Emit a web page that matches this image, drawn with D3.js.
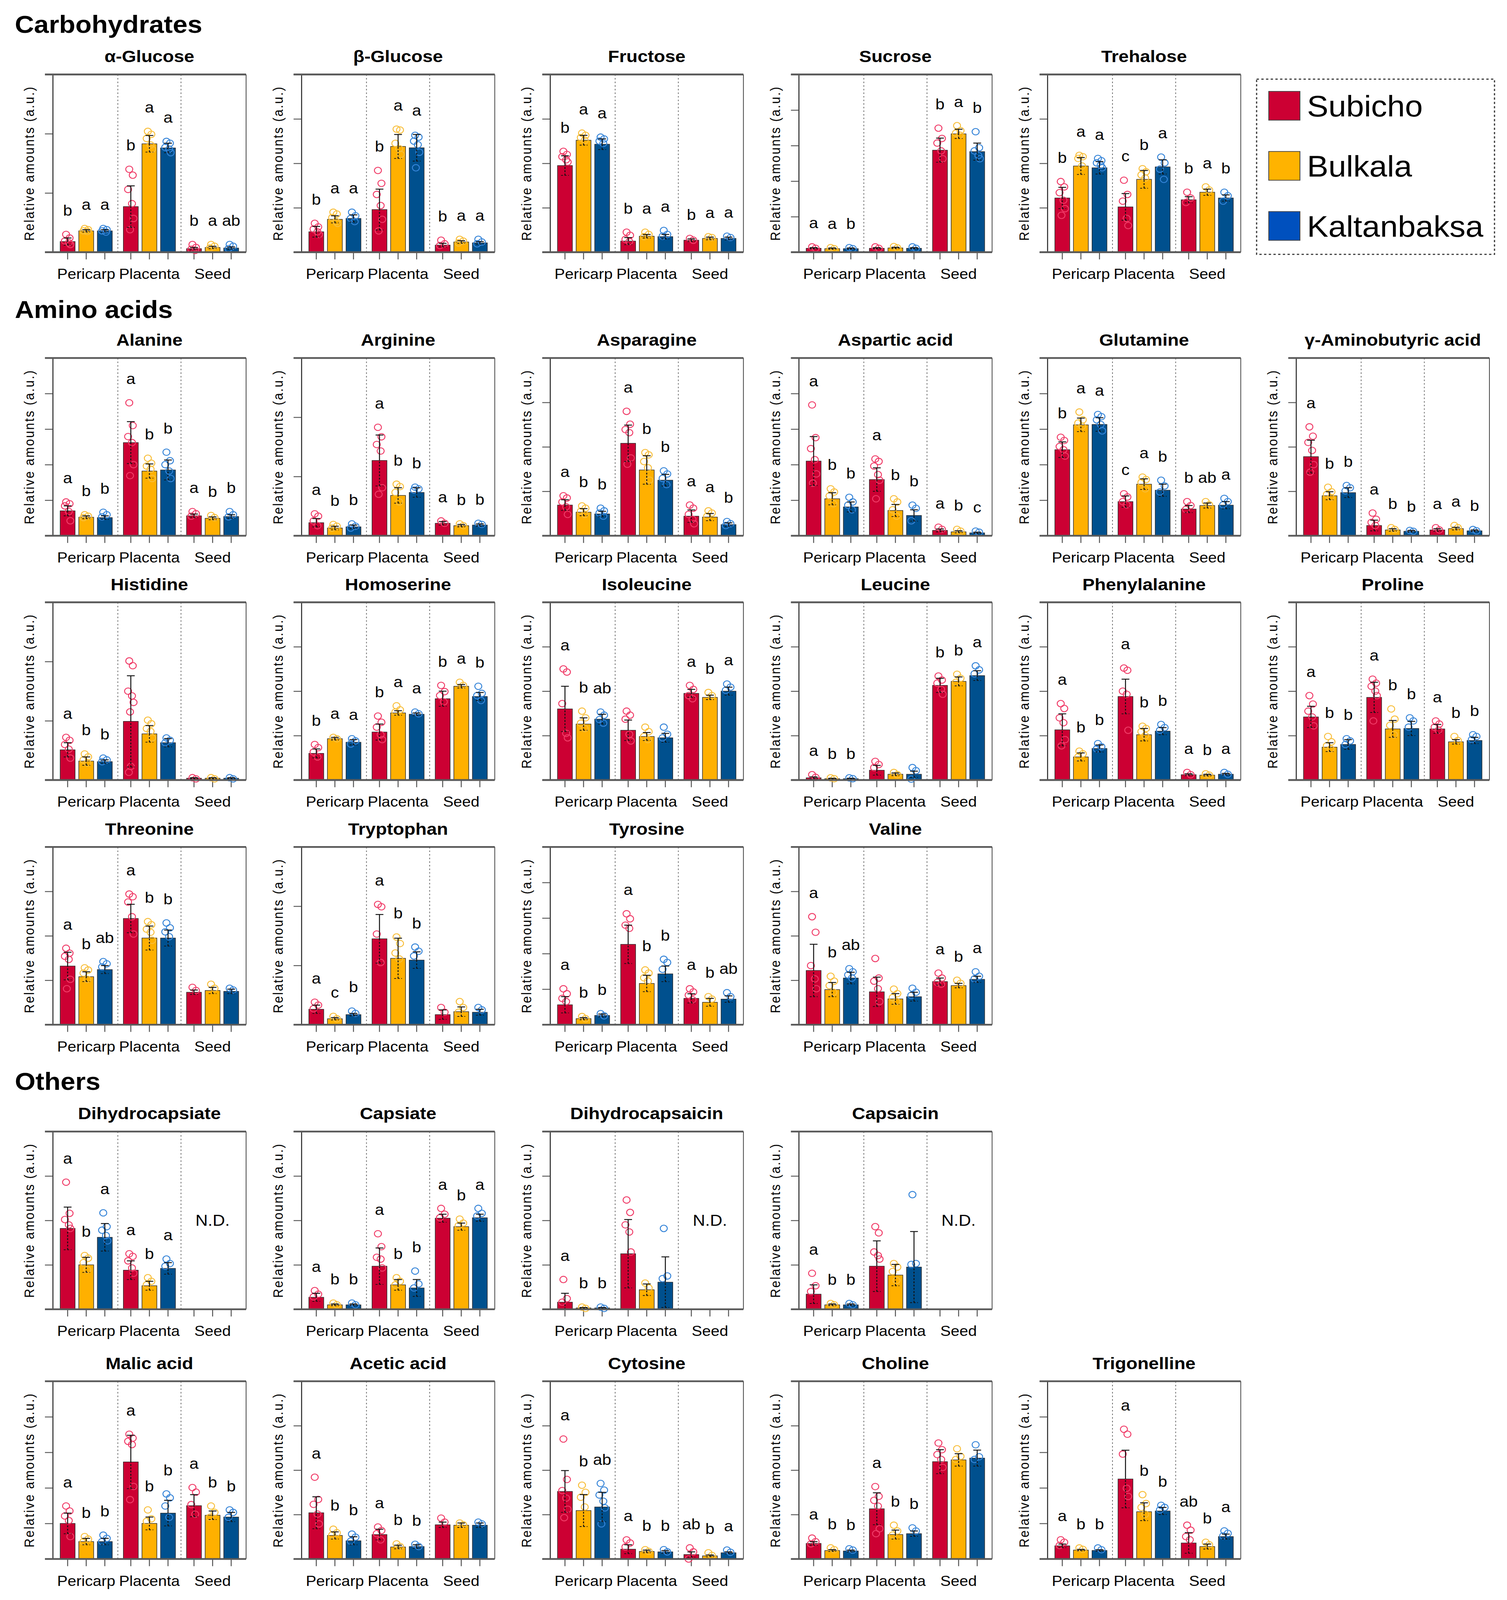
<!DOCTYPE html>
<html>
<head>
<meta charset="utf-8">
<script src="https://cdn.jsdelivr.net/npm/d3@7"></script>
<style>
html, body { margin: 0; padding: 0; background: #fff; overflow: hidden; }
#chart svg { display: block; width: 100vw; height: 100vh; }
svg text { font-family: "Liberation Sans", Arial, sans-serif; fill: #000; }
.y-axis path.domain { stroke: #222; stroke-width: 2.5; }
.y-axis .tick line { stroke: #555; stroke-width: 2.5; }
.x-ticks path.domain { display: none; }
.x-ticks .tick line { stroke: #555; stroke-width: 2.5; }
.x-labels path.domain { display: none; }
.x-labels .tick text { font-size: 40px; }
</style>
</head>
<body>
<div id="chart"></div>
<script>

// ---- data (arbitrary units) ----
var tissues = ["Pericarp", "Placenta", "Seed"];
var cultivars = ["Subicho", "Bulkala", "Kaltanbaksa"];
var sections = ["Carbohydrates", "Amino acids", "Others"];

var metabolites = ["α-Glucose", "β-Glucose", "Fructose", "Sucrose", "Trehalose",
    "Alanine", "Arginine", "Asparagine", "Aspartic acid", "Glutamine", "γ-Aminobutyric acid",
    "Histidine", "Homoserine", "Isoleucine", "Leucine", "Phenylalanine", "Proline",
    "Threonine", "Tryptophan", "Tyrosine", "Valine",
    "Dihydrocapsiate", "Capsiate", "Dihydrocapsaicin", "Capsaicin",
    "Malic acid", "Acetic acid", "Cytosine", "Choline", "Trigonelline"];

// top of each y axis (ticks at every whole unit)
var yMax = [3, 4, 4, 5, 4,
    5, 3, 4, 5, 5, 4,
    3, 4, 4, 4, 4, 4,
    4, 3, 5, 4,
    4, 4, 4, 4,
    5, 4, 4, 4, 5];

// bar order: Pericarp S/B/K, Placenta S/B/K, Seed S/B/K ; null = N.D.
var means = [
    [0.18, 0.36, 0.36, 0.77, 1.83, 1.76, 0.06, 0.08, 0.07],
    [0.46, 0.74, 0.76, 0.96, 2.38, 2.35, 0.16, 0.23, 0.21],
    [1.95, 2.52, 2.43, 0.25, 0.36, 0.35, 0.27, 0.31, 0.31],
    [0.11, 0.10, 0.10, 0.11, 0.12, 0.11, 2.87, 3.33, 2.83],
    [1.22, 1.94, 1.90, 1.02, 1.64, 1.92, 1.18, 1.35, 1.22],
    [0.70, 0.52, 0.51, 2.62, 1.82, 1.85, 0.56, 0.49, 0.54],
    [0.22, 0.13, 0.15, 1.27, 0.68, 0.73, 0.21, 0.17, 0.18],
    [0.69, 0.53, 0.49, 2.08, 1.48, 1.25, 0.44, 0.42, 0.25],
    [2.10, 1.04, 0.81, 1.58, 0.71, 0.57, 0.15, 0.11, 0.08],
    [2.42, 3.12, 3.13, 0.96, 1.45, 1.28, 0.75, 0.85, 0.86],
    [1.78, 0.90, 0.97, 0.23, 0.13, 0.10, 0.13, 0.16, 0.11],
    [0.51, 0.32, 0.31, 0.99, 0.78, 0.63, 0.03, 0.03, 0.03],
    [0.60, 0.93, 0.85, 1.08, 1.51, 1.48, 1.83, 2.11, 1.88],
    [1.60, 1.26, 1.37, 1.12, 0.98, 0.95, 1.95, 1.86, 2.00],
    [0.05, 0.03, 0.03, 0.22, 0.13, 0.13, 2.13, 2.22, 2.35],
    [1.13, 0.52, 0.71, 1.88, 1.02, 1.10, 0.12, 0.11, 0.13],
    [1.42, 0.74, 0.80, 1.86, 1.15, 1.16, 1.15, 0.86, 0.89],
    [1.32, 1.08, 1.24, 2.39, 1.95, 1.95, 0.73, 0.77, 0.75],
    [0.26, 0.10, 0.17, 1.45, 1.12, 1.09, 0.17, 0.22, 0.21],
    [0.56, 0.17, 0.26, 2.26, 1.16, 1.43, 0.74, 0.63, 0.72],
    [1.22, 0.79, 1.05, 0.74, 0.58, 0.63, 0.97, 0.88, 1.02],
    [1.82, 1.00, 1.62, 0.88, 0.53, 0.92, null, null, null],
    [0.27, 0.10, 0.10, 0.97, 0.55, 0.48, 2.05, 1.86, 2.06],
    [0.16, 0.03, 0.03, 1.25, 0.44, 0.61, null, null, null],
    [0.34, 0.10, 0.10, 0.97, 0.77, 0.95, null, null, null],
    [1.00, 0.49, 0.49, 2.73, 1.00, 1.29, 1.50, 1.23, 1.18],
    [1.04, 0.53, 0.41, 0.55, 0.27, 0.28, 0.77, 0.76, 0.76],
    [1.52, 1.09, 1.17, 0.22, 0.17, 0.16, 0.10, 0.07, 0.14],
    [0.35, 0.19, 0.18, 1.13, 0.55, 0.57, 2.19, 2.23, 2.27],
    [0.37, 0.25, 0.24, 2.25, 1.33, 1.35, 0.45, 0.35, 0.63]
];

var sds = [
    [0.06, 0.02, 0.02, 0.35, 0.14, 0.08, 0.02, 0.02, 0.02],
    [0.12, 0.08, 0.08, 0.46, 0.27, 0.30, 0.04, 0.03, 0.03],
    [0.22, 0.11, 0.12, 0.08, 0.04, 0.05, 0.03, 0.03, 0.03],
    [0.02, 0.02, 0.02, 0.02, 0.02, 0.02, 0.34, 0.13, 0.24],
    [0.24, 0.19, 0.14, 0.30, 0.20, 0.16, 0.07, 0.07, 0.07],
    [0.14, 0.04, 0.05, 0.59, 0.20, 0.28, 0.05, 0.04, 0.05],
    [0.07, 0.03, 0.03, 0.43, 0.13, 0.08, 0.03, 0.02, 0.02],
    [0.12, 0.08, 0.06, 0.41, 0.32, 0.13, 0.14, 0.08, 0.04],
    [0.69, 0.17, 0.14, 0.33, 0.17, 0.16, 0.04, 0.03, 0.02],
    [0.22, 0.19, 0.19, 0.16, 0.15, 0.17, 0.10, 0.07, 0.10],
    [0.37, 0.09, 0.11, 0.12, 0.03, 0.02, 0.03, 0.03, 0.02],
    [0.12, 0.07, 0.03, 0.77, 0.14, 0.07, 0.01, 0.01, 0.01],
    [0.10, 0.03, 0.06, 0.18, 0.05, 0.03, 0.17, 0.04, 0.09],
    [0.51, 0.14, 0.11, 0.23, 0.09, 0.10, 0.09, 0.05, 0.09],
    [0.02, 0.01, 0.01, 0.11, 0.03, 0.07, 0.16, 0.10, 0.11],
    [0.36, 0.09, 0.08, 0.39, 0.14, 0.08, 0.02, 0.02, 0.02],
    [0.24, 0.10, 0.11, 0.34, 0.19, 0.16, 0.10, 0.05, 0.07],
    [0.31, 0.11, 0.09, 0.32, 0.27, 0.18, 0.05, 0.07, 0.05],
    [0.07, 0.02, 0.02, 0.41, 0.34, 0.14, 0.08, 0.08, 0.05],
    [0.23, 0.03, 0.04, 0.54, 0.23, 0.22, 0.13, 0.11, 0.09],
    [0.59, 0.16, 0.13, 0.33, 0.12, 0.10, 0.08, 0.05, 0.07],
    [0.48, 0.17, 0.31, 0.21, 0.10, 0.13, null, null, null],
    [0.09, 0.02, 0.02, 0.41, 0.12, 0.19, 0.09, 0.08, 0.08],
    [0.20, 0.01, 0.01, 0.77, 0.13, 0.57, null, null, null],
    [0.21, 0.02, 0.02, 0.57, 0.24, 0.80, null, null, null],
    [0.29, 0.09, 0.09, 0.75, 0.18, 0.36, 0.31, 0.12, 0.13],
    [0.36, 0.08, 0.09, 0.12, 0.04, 0.04, 0.06, 0.05, 0.05],
    [0.47, 0.36, 0.33, 0.10, 0.03, 0.03, 0.06, 0.02, 0.02],
    [0.04, 0.02, 0.02, 0.36, 0.10, 0.06, 0.27, 0.14, 0.18],
    [0.05, 0.02, 0.02, 0.81, 0.25, 0.10, 0.29, 0.07, 0.07]
];

// individual replicates
var points = [
    [[0.30,0.24,0.19,0.16,0.13],[0.40,0.38,0.36,0.35],[0.40,0.38,0.36,0.34],[1.40,1.30,1.06,0.82,0.57,0.38],[2.04,1.99,1.92,1.81,1.74],[1.87,1.84,1.77,1.74,1.68],[0.13,0.08,0.05,0.03],[0.13,0.10,0.07],[0.13,0.10,0.06]],
    [[0.65,0.57,0.52,0.46,0.40],[0.90,0.86,0.78,0.69,0.65],[0.90,0.82,0.76,0.69],[1.84,1.55,1.30,1.05,0.74,0.48],[2.77,2.75,2.45,2.33,2.20],[2.63,2.59,2.50,2.42,2.25,1.90],[0.27,0.19,0.15],[0.29,0.25,0.21],[0.29,0.23,0.19]],
    [[2.27,2.20,2.15,2.08,2.03],[2.68,2.63,2.58,2.52],[2.59,2.55,2.50,2.45],[0.45,0.38,0.29,0.24],[0.45,0.40,0.35],[0.49,0.40,0.36],[0.31,0.27],[0.35,0.33],[0.36,0.33]],
    [[0.15,0.11],[0.13,0.10],[0.13,0.10],[0.15,0.11],[0.16,0.12],[0.15,0.11],[3.49,3.20,3.07,2.85,2.63],[3.56,3.42,3.35,3.29],[3.39,2.94,2.85,2.72,2.63]],
    [[1.59,1.47,1.34,1.17,0.98,0.83],[2.18,2.15,2.11,1.94],[2.11,2.06,2.01,1.96,1.90],[1.62,1.30,1.15,0.76,0.60],[1.88,1.81,1.74,1.67],[2.14,2.01,1.87,1.64],[1.35,1.22,1.12],[1.47,1.40],[1.35,1.27,1.15]],
    [[0.95,0.90,0.84,0.68,0.42],[0.59,0.55,0.51],[0.66,0.59,0.53],[3.74,3.10,2.79,2.62,2.00,1.69],[2.18,2.04,1.96,1.87,1.61],[2.35,2.11,2.00,1.82,1.61],[0.68,0.62,0.55],[0.57,0.51],[0.68,0.59,0.53]],
    [[0.37,0.33,0.25,0.17],[0.19,0.16,0.13],[0.20,0.16,0.13],[1.83,1.67,1.54,1.43,0.81,0.70],[0.87,0.83,0.73,0.57],[0.82,0.79,0.77],[0.25,0.21],[0.20,0.17],[0.21,0.19]],
    [[0.90,0.85,0.76,0.65,0.48],[0.67,0.62,0.55,0.48],[0.62,0.56,0.51,0.44],[2.80,2.51,2.39,2.32,1.75,1.61],[1.87,1.82,1.67,1.53,1.25],[1.46,1.39,1.29,1.15],[0.69,0.62,0.48,0.37,0.27],[0.56,0.51,0.44],[0.32,0.27,0.23]],
    [[3.68,2.76,2.45,2.14,1.74,1.48],[1.32,1.23,1.12,0.90],[1.08,0.95,0.86,0.73],[2.16,2.09,1.96,1.72,1.56,1.04],[1.04,0.95,0.73,0.55],[0.86,0.77,0.42],[0.24,0.18],[0.18,0.13],[0.13,0.10]],
    [[2.77,2.68,2.51,2.42,2.24],[3.48,3.26,3.17,3.08],[3.41,3.35,3.26,3.13,2.95],[1.18,1.09,0.96,0.87],[1.65,1.58,1.50,1.32],[1.56,1.40,1.23],[0.96,0.85,0.74],[0.96,0.87],[1.05,0.96,0.87]],
    [[2.45,2.24,2.10,1.92,1.60,1.43],[1.09,0.99,0.93,0.86],[1.13,1.08,1.01],[0.51,0.37,0.30,0.23],[0.18,0.14],[0.12,0.10],[0.18,0.13],[0.23,0.18],[0.14,0.11]],
    [[0.72,0.67,0.60,0.52,0.37],[0.44,0.39,0.34,0.29],[0.37,0.34,0.31],[2.01,1.93,1.50,1.42,1.31,1.15,0.23,0.13],[1.01,0.95,0.87,0.82,0.71],[0.71,0.67,0.63],[0.04,0.02],[0.04,0.02],[0.04,0.02]],
    [[0.80,0.73,0.63,0.52],[0.96,0.93],[0.93,0.88,0.81],[1.44,1.30,1.19,1.02,0.91],[1.67,1.58,1.53],[1.53,1.49],[2.13,1.99,1.90,1.76],[2.20,2.13],[2.11,1.95,1.90,1.79]],
    [[2.50,2.43,1.72,1.05,0.95],[1.55,1.40,1.28,1.16],[1.53,1.46,1.36,1.28],[1.55,1.46,1.37,1.03,0.88],[1.19,1.09,0.98,0.91],[1.19,1.03,0.95],[2.13,2.04,1.90,1.83],[1.97,1.90],[2.16,2.09,2.02]],
    [[0.12,0.06],[0.05,0.03],[0.05,0.03],[0.42,0.35,0.28],[0.17,0.12],[0.28,0.21,0.02],[2.34,2.25,2.18,2.04,1.93],[2.38,2.29,2.20],[2.57,2.48,2.39]],
    [[1.72,1.61,1.40,1.29,0.91,0.77],[0.65,0.59,0.52],[0.82,0.75,0.70],[2.52,2.47,2.00,1.93,1.12],[1.21,1.16,1.09,1.00],[1.25,1.18,1.12],[0.17,0.12],[0.14,0.11],[0.17,0.13]],
    [[1.90,1.71,1.55,1.42,1.22],[0.98,0.86,0.77,0.70],[0.93,0.88,0.80],[2.27,2.18,2.11,2.00,1.90,1.33],[1.60,1.37,1.23,1.02],[1.40,1.33,1.19],[1.33,1.26,1.19,1.12],[0.98,0.89],[1.02,0.98,0.91]],
    [[1.72,1.61,1.54,1.47,1.02,0.81],[1.28,1.23,1.16,1.02],[1.42,1.37,1.30],[2.94,2.88,2.76,2.43,2.04],[2.32,2.25,2.15,2.08,1.90],[2.29,2.18,2.09,1.98],[0.84,0.77],[0.91,0.82],[0.82,0.78]],
    [[0.38,0.33,0.27],[0.14,0.10],[0.23,0.19],[2.03,1.99,1.53,1.05],[1.48,1.37,1.21,1.11],[1.31,1.24,1.16],[0.29,0.21],[0.39,0.29,0.21],[0.29,0.25]],
    [[1.01,0.87,0.74,0.65],[0.23,0.17],[0.31,0.25],[3.12,2.98,2.80,2.71],[1.54,1.45,1.32,1.23],[1.84,1.75,1.56],[1.01,0.92,0.83,0.70],[0.79,0.72],[0.90,0.79]],
    [[2.43,2.08,1.33,1.03,0.81],[1.09,0.98,0.88,0.73],[1.26,1.19,1.12,1.05],[1.49,1.05,0.98,0.81,0.52],[0.80,0.70,0.61,0.52],[0.82,0.73,0.66],[1.16,1.05,0.95,0.91],[1.00,0.93],[1.19,1.09,1.03]],
    [[2.86,2.16,2.02,1.90,1.82],[1.21,1.15,1.05,0.89],[2.17,1.86,1.78,1.66,1.54],[1.25,1.19,1.09,0.93,0.81],[0.71,0.63,0.55],[1.13,1.03,0.97],[],[],[]],
    [[0.42,0.34,0.28],[0.14,0.10],[0.14,0.10],[1.70,1.41,1.17,1.13,0.93],[0.71,0.63,0.55],[0.86,0.57,0.48],[2.27,2.14,2.06],[2.03,1.94,1.88],[2.27,2.16,2.10]],
    [[0.67,0.24,0.16],[0.05,0.02],[0.05,0.02],[2.46,2.18,1.90,1.74,1.29],[0.59,0.48],[1.82,0.75,0.69],[],[],[]],
    [[0.81,0.53,0.40],[0.13,0.10],[0.13,0.10],[1.86,1.72,1.29,1.21,1.13],[1.03,0.95,0.85,0.65],[2.58,1.03,1.01],[],[],[]],
    [[1.49,1.35,1.21,1.08,0.63],[0.63,0.56,0.49],[0.67,0.58,0.49],[3.51,3.40,3.31,3.22,2.04,1.67],[1.38,1.13,1.06],[1.83,1.72,1.49,1.17],[2.01,1.88,1.53,1.26],[1.49,1.31,1.17],[1.38,1.31,1.17]],
    [[1.84,1.34,1.23,1.01,0.79],[0.67,0.59,0.54],[0.56,0.49,0.40],[0.72,0.64,0.57,0.43],[0.34,0.28],[0.33,0.28],[0.92,0.83],[0.81,0.77],[0.83,0.79]],
    [[2.70,1.79,1.54,1.37,1.12,0.93],[1.66,1.50,1.39,1.17],[1.70,1.55,1.44,1.30,1.15,0.79],[0.43,0.36,0.27],[0.21,0.17],[0.21,0.16],[0.25,0.16,0.00],[0.14,0.08],[0.20,0.15]],
    [[0.47,0.39,0.34],[0.25,0.21],[0.23,0.20],[1.63,1.41,1.32,1.19,0.68,0.57],[0.76,0.63,0.54],[0.70,0.63],[2.61,2.46,2.35,2.24,2.06],[2.48,2.31,2.24],[2.57,2.30,2.24]],
    [[0.54,0.47,0.38],[0.31,0.27],[0.31,0.26],[3.65,3.51,2.95,1.99,1.76],[1.81,1.56,1.45,1.26],[1.51,1.45,1.38],[0.95,0.81,0.63,0.54],[0.47,0.40],[0.79,0.72,0.65]]
];

// significance letters ("" = none shown)
var letters = [
    ["b","a","a","b","a","a","b","a","ab"],
    ["b","a","a","b","a","a","b","a","a"],
    ["b","a","a","b","a","a","b","a","a"],
    ["a","a","b","","","","b","a","b"],
    ["b","a","a","c","b","a","b","a","b"],
    ["a","b","b","a","b","b","a","b","b"],
    ["a","b","b","a","b","b","a","b","b"],
    ["a","b","b","a","b","b","a","a","b"],
    ["a","b","b","a","b","b","a","b","c"],
    ["b","a","a","c","a","b","b","ab","a"],
    ["a","b","b","a","b","b","a","a","b"],
    ["a","b","b","","","","","",""],
    ["b","a","a","b","a","a","b","a","b"],
    ["a","b","ab","","","","a","b","a"],
    ["a","b","b","","","","b","b","a"],
    ["a","b","b","a","b","b","a","b","a"],
    ["a","b","b","a","b","b","a","b","b"],
    ["a","b","ab","a","b","b","","",""],
    ["a","c","b","a","b","b","","",""],
    ["a","b","b","a","b","b","a","b","ab"],
    ["a","b","ab","","","","a","b","a"],
    ["a","b","a","a","b","a","","",""],
    ["a","b","b","a","b","b","a","b","a"],
    ["a","b","b","","","","","",""],
    ["a","b","b","","","","","",""],
    ["a","b","b","a","b","b","a","b","b"],
    ["a","b","b","a","b","b","","",""],
    ["a","b","ab","a","b","b","ab","b","a"],
    ["a","b","b","a","b","b","","",""],
    ["a","b","b","a","b","b","ab","b","a"]
];

// ---- layout ----
var barColors = ["#CC0033", "#FFB000", "#00508E"];
var dotColors = ["#F03C68", "#F8BE3A", "#3584D8"];
var legendColors = ["#CC0033", "#FFB300", "#0050BE"];

var panelRows = [[0,1,2,3,4], [5,6,7,8,9,10], [11,12,13,14,15,16], [17,18,19,20], [21,22,23,24], [25,26,27,28,29]];
var rowTops = [207, 995, 1674, 2354, 3145, 3839];
var sectionY = [91, 884, 3029];
var jitter = [-4, 5, -7, 3, 7, -2, 0, -5];

// drawn in reference pixels, stretched to whatever the window is
var svg = d3.select("#chart").append("svg")
    .attr("viewBox", "0 0 3858 4447")
    .attr("preserveAspectRatio", "none");

svg.append("rect").attr("width", 3858).attr("height", 4447).attr("fill", "#fff");

svg.selectAll("text.section")
    .data(sections)
    .enter().append("text")
    .attr("class", "section")
    .attr("x", 38)
    .attr("y", function(d, i) { return sectionY[i]; })
    .style("font-size", "68px")
    .style("font-weight", "bold")
    .text(function(d) { return d; });


/*
 * BarPanel - one metabolite, grouped bars per tissue
 */
BarPanel = function(_parent, _k, _left, _top){
    this.parent = _parent;
    this.k = _k;
    this.left = _left;
    this.top = _top;
    this.initVis();
}

BarPanel.prototype.initVis = function(){
    var vis = this;
    var k = vis.k;

    vis.width = 495;
    vis.height = 494;

    vis.svg = vis.parent.append("g")
        .attr("transform", "translate(" + vis.left + "," + vis.top + ")");

    vis.x0 = d3.scaleBand()
        .domain(tissues)
        .range([0, vis.width])
        .paddingInner(0.176)
        .paddingOuter(0.118);

    vis.x1 = d3.scaleBand()
        .domain(cultivars)
        .range([0, vis.x0.bandwidth()])
        .paddingInner(0.2);

    vis.y = d3.scaleLinear()
        .domain([0, yMax[k]])
        .range([vis.height, 0]);

    vis.displayData = d3.range(9).map(function(i){
        return {
            tissue: tissues[Math.floor(i / 3)],
            cultivar: cultivars[i % 3],
            ci: i % 3,
            mean: means[k][i],
            sd: sds[k][i],
            pts: points[k][i] || [],
            letter: letters[k][i]
        };
    });

    vis.cx = function(d){ return vis.x0(d.tissue) + vis.x1(d.cultivar) + vis.x1.bandwidth() / 2; };

    // dotted tissue separators
    var gap = vis.x0.step() * vis.x0.paddingInner();
    vis.svg.selectAll("line.sep")
        .data(tissues.slice(0, 2))
        .enter().append("line")
        .attr("class", "sep")
        .attr("x1", function(d){ return vis.x0(d) + vis.x0.bandwidth() + gap / 2; })
        .attr("x2", function(d){ return vis.x0(d) + vis.x0.bandwidth() + gap / 2; })
        .attr("y1", 0)
        .attr("y2", vis.height)
        .attr("stroke", "#666")
        .attr("stroke-width", 2)
        .attr("stroke-dasharray", "4,6");

    // y axis, ticks only
    vis.yAxis = d3.axisLeft(vis.y)
        .tickValues(d3.range(0, yMax[k] + 1))
        .tickFormat("")
        .tickSize(20)
        .tickSizeOuter(0);

    vis.svg.append("g")
        .attr("class", "y-axis")
        .call(vis.yAxis);

    // box: heavy top and bottom, thin right side
    vis.svg.append("line")
        .attr("x1", -20).attr("x2", vis.width)
        .attr("y1", 0).attr("y2", 0)
        .attr("stroke", "#5a5a5a").attr("stroke-width", 5);
    vis.svg.append("line")
        .attr("x1", vis.width).attr("x2", vis.width)
        .attr("y1", 0).attr("y2", vis.height)
        .attr("stroke", "#444").attr("stroke-width", 2);

    // per-bar ticks under each tissue group
    tissues.forEach(function(t){
        vis.svg.append("g")
            .attr("class", "x-ticks")
            .attr("transform", "translate(" + vis.x0(t) + "," + vis.height + ")")
            .call(d3.axisBottom(vis.x1).tickFormat("").tickSize(20).tickSizeOuter(0));
    });

    vis.svg.append("g")
        .attr("class", "x-labels")
        .attr("transform", "translate(0," + vis.height + ")")
        .call(d3.axisBottom(vis.x0).tickSize(0).tickPadding(46));

    // y label
    vis.svg.append("text")
        .attr("transform", "translate(-60," + (vis.height / 2) + ") rotate(-90)")
        .attr("dy", "0.35em")
        .style("text-anchor", "middle")
        .style("font-size", "35px")
        .style("letter-spacing", "3px")
        .text("Relative amounts (a.u.)");

    // title
    vis.svg.append("text")
        .attr("x", vis.width / 2)
        .attr("y", -34)
        .style("text-anchor", "middle")
        .style("font-size", "47px")
        .style("font-weight", "bold")
        .text(metabolites[k]);

    vis.updateVis();
}

BarPanel.prototype.updateVis = function(){
    var vis = this;
    var shown = vis.displayData.filter(function(d){ return d.mean !== null; });
    var bw = vis.x1.bandwidth();

    vis.svg.selectAll("rect.bar")
        .data(shown)
        .enter().append("rect")
        .attr("class", "bar")
        .attr("x", function(d){ return vis.x0(d.tissue) + vis.x1(d.cultivar); })
        .attr("y", function(d){ return vis.y(d.mean); })
        .attr("width", bw)
        .attr("height", function(d){ return vis.height - vis.y(d.mean); })
        .attr("fill", function(d){ return barColors[d.ci]; })
        .attr("stroke", "#2a2a2a")
        .attr("stroke-width", 1.5);

    // replicate circles
    var dots = [];
    shown.forEach(function(d){
        d.pts.forEach(function(v, j){
            dots.push({ x: vis.cx(d) + jitter[j % jitter.length], v: v, ci: d.ci });
        });
    });
    vis.svg.selectAll("circle.rep")
        .data(dots)
        .enter().append("circle")
        .attr("class", "rep")
        .attr("cx", function(d){ return d.x; })
        .attr("cy", function(d){ return vis.y(d.v); })
        .attr("r", 9)
        .attr("fill", "none")
        .attr("stroke", function(d){ return dotColors[d.ci]; })
        .attr("stroke-width", 2.5);

    // error bars: solid above the mean, dashed inside the bar
    var err = vis.svg.selectAll("g.err")
        .data(shown)
        .enter().append("g")
        .attr("class", "err");

    err.append("line")
        .attr("x1", vis.cx).attr("x2", vis.cx)
        .attr("y1", function(d){ return vis.y(d.mean); })
        .attr("y2", function(d){ return vis.y(d.mean + d.sd); })
        .attr("stroke", "#111").attr("stroke-width", 2.5);
    err.append("line")
        .attr("x1", function(d){ return vis.cx(d) - 10; })
        .attr("x2", function(d){ return vis.cx(d) + 10; })
        .attr("y1", function(d){ return vis.y(d.mean + d.sd); })
        .attr("y2", function(d){ return vis.y(d.mean + d.sd); })
        .attr("stroke", "#111").attr("stroke-width", 2.5);
    err.append("line")
        .attr("x1", vis.cx).attr("x2", vis.cx)
        .attr("y1", function(d){ return vis.y(Math.max(0, d.mean - d.sd)); })
        .attr("y2", function(d){ return vis.y(d.mean); })
        .attr("stroke", "#111").attr("stroke-width", 2.5)
        .attr("stroke-dasharray", "5,4");
    err.append("line")
        .attr("x1", function(d){ return vis.cx(d) - 10; })
        .attr("x2", function(d){ return vis.cx(d) + 10; })
        .attr("y1", function(d){ return vis.y(Math.max(0, d.mean - d.sd)); })
        .attr("y2", function(d){ return vis.y(Math.max(0, d.mean - d.sd)); })
        .attr("stroke", "#111").attr("stroke-width", 2)
        .attr("stroke-dasharray", "5,4");

    // bottom axis line drawn over the bar bases
    vis.svg.append("line")
        .attr("x1", -20).attr("x2", vis.width)
        .attr("y1", vis.height).attr("y2", vis.height)
        .attr("stroke", "#5a5a5a").attr("stroke-width", 5);

    // letters above the highest of error bar / replicate
    vis.svg.selectAll("text.sig")
        .data(shown.filter(function(d){ return d.letter !== ""; }))
        .enter().append("text")
        .attr("class", "sig")
        .attr("x", vis.cx)
        .attr("y", function(d){
            var top = Math.max(d.mean + d.sd, d3.max(d.pts) || 0);
            return vis.y(top) - 52;
        })
        .style("text-anchor", "middle")
        .style("font-size", "42px")
        .text(function(d){ return d.letter; });

    // N.D. where a tissue had nothing detected
    tissues.forEach(function(t, ti){
        var grp = vis.displayData.slice(ti * 3, ti * 3 + 3);
        if (grp.every(function(d){ return d.mean === null; })) {
            vis.svg.append("text")
                .attr("x", vis.x0(t) + vis.x0.bandwidth() / 2)
                .attr("y", vis.y(yMax[vis.k] / 2) + 15)
                .style("text-anchor", "middle")
                .style("font-size", "44px")
                .text("N.D.");
        }
    });
}


panelRows.forEach(function(row, r){
    row.forEach(function(k, c){
        new BarPanel(svg, k, 135 + c * 636.6, rowTops[r]);
    });
});

// legend
var legend = svg.append("g").attr("class", "legend");
legend.append("rect")
    .attr("x", 3217).attr("y", 220)
    .attr("width", 609).attr("height", 487)
    .attr("fill", "none")
    .attr("stroke", "#333")
    .attr("stroke-width", 3)
    .attr("stroke-dasharray", "6,6");

var item = legend.selectAll("g.item")
    .data(cultivars)
    .enter().append("g")
    .attr("class", "item")
    .attr("transform", function(d, i){ return "translate(3248," + (254 + i * 167) + ")"; });

item.append("rect")
    .attr("width", 80).attr("height", 80)
    .attr("fill", function(d, i){ return legendColors[i]; })
    .attr("stroke", "#444")
    .attr("stroke-width", 2);

item.append("text")
    .attr("x", 98)
    .attr("y", 70)
    .style("font-size", "82px")
    .text(function(d){ return d; });

</script>
</body>
</html>
